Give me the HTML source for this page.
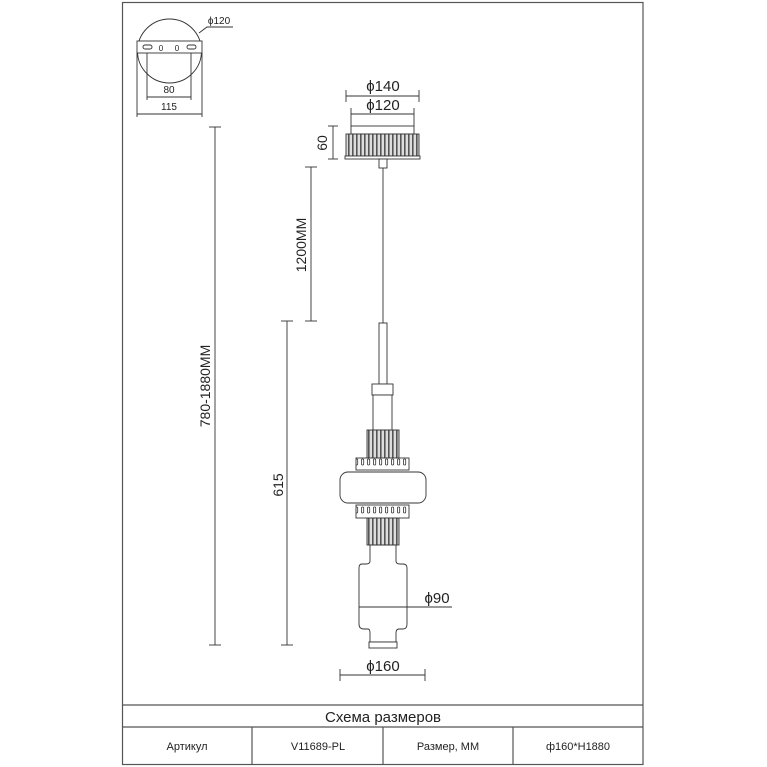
<!DOCTYPE html>
<html><head><meta charset="utf-8"><style>
html,body{margin:0;padding:0;background:#fff}
svg{display:block}
text{font-family:"Liberation Sans",sans-serif;fill:#222}
</style></head><body>
<svg width="767" height="767" viewBox="0 0 767 767" xmlns="http://www.w3.org/2000/svg">
<defs>
<pattern id="flute" width="4" height="10" patternUnits="userSpaceOnUse">
<rect width="4" height="10" fill="#ddd"/><rect width="1.6" height="10" fill="#555"/>
</pattern>
<pattern id="ring" width="6" height="12" patternUnits="userSpaceOnUse">
<rect width="6" height="12" fill="#fff"/><rect x="1.5" y="3" width="2.2" height="6" rx="1" fill="#fff" stroke="#333" stroke-width="0.8"/>
</pattern>
</defs>
<g stroke="#555" fill="none" stroke-width="1.2">
<rect x="122.5" y="2.5" width="520.5" height="762" />
<line x1="122" y1="705" x2="643" y2="705"/>
<line x1="122" y1="727" x2="643" y2="727"/>
<line x1="252" y1="727" x2="252" y2="765"/>
<line x1="383" y1="727" x2="383" y2="765"/>
<line x1="513" y1="727" x2="513" y2="765"/>
</g>
<text x="383" y="722" font-size="15" text-anchor="middle">Схема размеров</text>
<text x="187" y="750" font-size="11" text-anchor="middle">Артикул</text>
<text x="318" y="750" font-size="11" text-anchor="middle">V11689-PL</text>
<text x="448" y="750" font-size="11" text-anchor="middle">Размер, ММ</text>
<text x="578" y="750" font-size="11" text-anchor="middle">ф160*Н1880</text>

<!-- top view -->
<g stroke="#333" fill="none" stroke-width="0.9">
<circle cx="169.5" cy="51" r="32"/>
<rect x="137" y="41" width="65" height="12" fill="#fff"/>
<rect x="143" y="45" width="9" height="4" rx="2"/>
<rect x="187" y="45" width="9" height="4" rx="2"/>
<polyline points="199,33 207,27 233,27"/>
<line x1="147" y1="53" x2="147" y2="100"/><line x1="191" y1="53" x2="191" y2="100"/>
<line x1="137" y1="53" x2="137" y2="117"/><line x1="202" y1="53" x2="202" y2="117"/>
<line x1="147" y1="97" x2="191" y2="97"/><line x1="137" y1="114" x2="202" y2="114"/>
</g>
<text x="161" y="51" font-size="8" text-anchor="middle">0</text>
<text x="177" y="51" font-size="8" text-anchor="middle">0</text>
<text x="219" y="24" font-size="10" text-anchor="middle">ϕ120</text>
<text x="169" y="93" font-size="10" text-anchor="middle">80</text>
<text x="169" y="110" font-size="10" text-anchor="middle">115</text>

<!-- dims -->
<g stroke="#333" stroke-width="0.9" fill="none">
<line x1="346" y1="96" x2="419" y2="96"/><line x1="346" y1="90" x2="346" y2="102"/><line x1="419" y1="90" x2="419" y2="102"/>
<line x1="351" y1="114" x2="414" y2="114"/><line x1="351" y1="108" x2="351" y2="126"/><line x1="414" y1="108" x2="414" y2="126"/>
<line x1="333" y1="126" x2="333" y2="159"/><line x1="328" y1="126" x2="338" y2="126"/><line x1="328" y1="159" x2="338" y2="159"/>
<line x1="215" y1="127" x2="215" y2="645"/><line x1="209" y1="127" x2="221" y2="127"/><line x1="209" y1="645" x2="221" y2="645"/>
<line x1="311" y1="167" x2="311" y2="321"/><line x1="305" y1="167" x2="317" y2="167"/><line x1="305" y1="321" x2="317" y2="321"/>
<line x1="287" y1="321" x2="287" y2="645"/><line x1="281" y1="321" x2="293" y2="321"/><line x1="281" y1="645" x2="293" y2="645"/>
<line x1="359" y1="607" x2="452" y2="607"/>
<line x1="340" y1="675" x2="425" y2="675"/><line x1="340" y1="669" x2="340" y2="681"/><line x1="425" y1="669" x2="425" y2="681"/>
</g>
<text x="383" y="91" font-size="15" text-anchor="middle">ϕ140</text>
<text x="383" y="110" font-size="15" text-anchor="middle">ϕ120</text>
<text x="437" y="603" font-size="15" text-anchor="middle">ϕ90</text>
<text x="383" y="671" font-size="15" text-anchor="middle">ϕ160</text>
<text transform="translate(327,143) rotate(-90)" font-size="14" text-anchor="middle">60</text>
<text transform="translate(306,245) rotate(-90)" font-size="14" text-anchor="middle">1200MM</text>
<text transform="translate(210,386) rotate(-90)" font-size="14" text-anchor="middle">780-1880MM</text>
<text transform="translate(283,485) rotate(-90)" font-size="14" text-anchor="middle">615</text>

<!-- lamp -->
<g stroke="#333" stroke-width="0.9">
<rect x="351" y="126" width="63" height="8" fill="#fff"/>
<rect x="346" y="134" width="73" height="22" fill="url(#flute)"/>
<rect x="345" y="156" width="75" height="3" fill="#fff"/>
<rect x="379" y="159" width="8" height="9" fill="#fff"/>
<line x1="383" y1="168" x2="383" y2="323"/>
<rect x="379" y="323" width="8" height="61" fill="#fff"/>
<rect x="372" y="384" width="21" height="11" fill="#fff"/>
<rect x="373" y="395" width="19" height="35" fill="#fff"/>
<rect x="367" y="430" width="32" height="28" fill="url(#flute)"/>
<rect x="356" y="458" width="53" height="12" fill="url(#ring)"/>
<rect x="340" y="472" width="86" height="31" rx="8" fill="#fff"/>
<rect x="356" y="505" width="53" height="13" fill="url(#ring)"/>
<rect x="367" y="518" width="32" height="27" fill="url(#flute)"/>
<path d="M370,545 V561 Q370,564 366,564 H362 Q359,564 359,568 V624 Q359,629 364,629 H368 Q370,629 370,633 V642 H396 V633 Q396,629 399,629 H403 Q407,629 407,624 V568 Q407,564 403,564 H400 Q396,564 396,561 V545 Z" fill="#fff"/>
<rect x="369" y="642" width="28" height="6" fill="#fff"/>
</g>
<line x1="359" y1="607" x2="407" y2="607" stroke="#333" stroke-width="0.9"/>
</svg>
</body></html>
